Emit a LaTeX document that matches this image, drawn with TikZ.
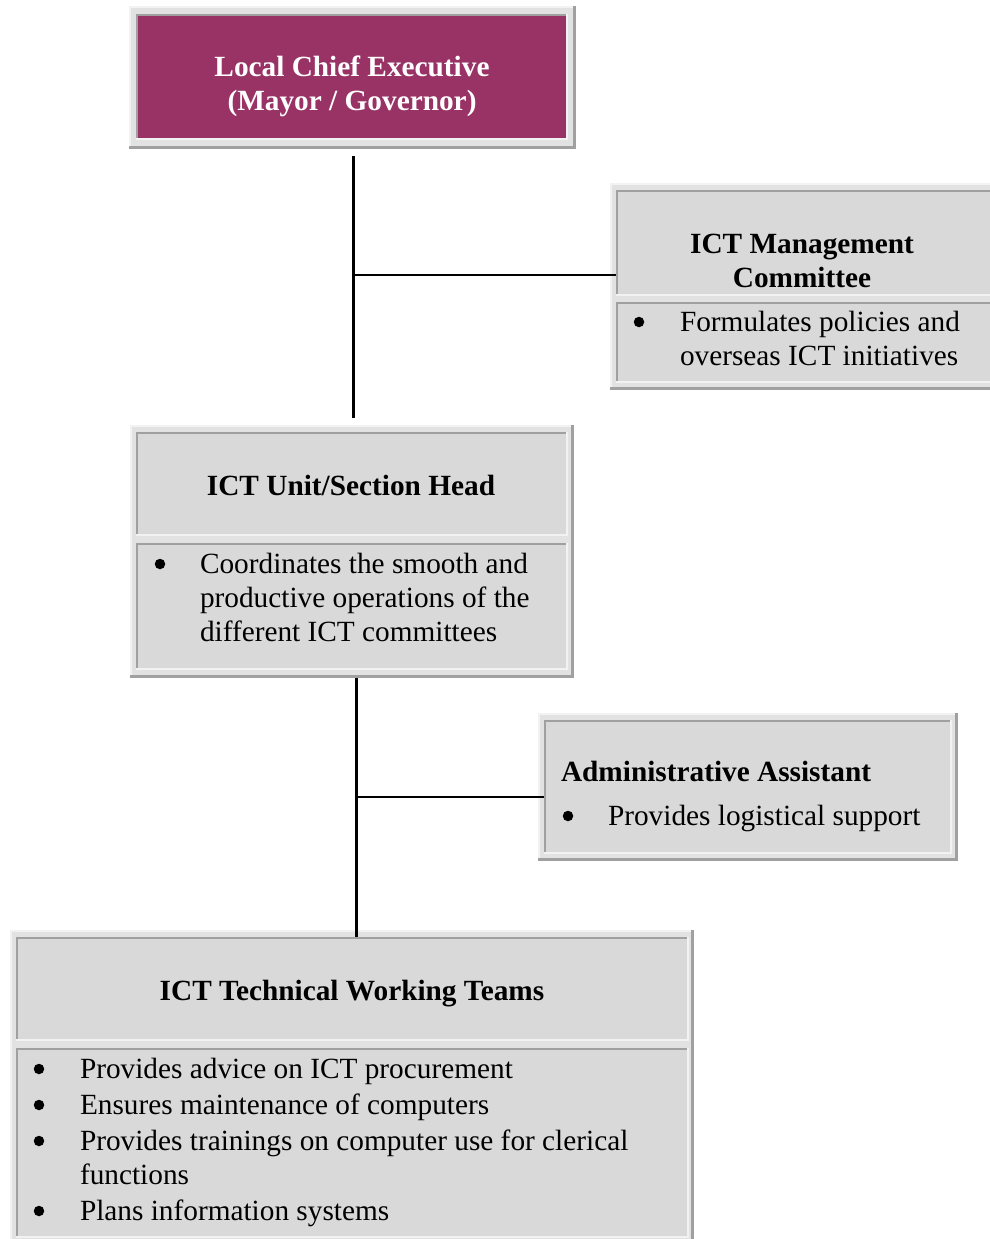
\documentclass[tikz,border=0pt]{standalone}
\usepackage{fontspec}
\setmainfont{Liberation Serif}
\definecolor{plum}{HTML}{993366}
\definecolor{cellgray}{HTML}{D9D9D9}
\definecolor{outergray}{HTML}{E2E2E2}
\definecolor{bevdark}{HTML}{A0A0A0}
\definecolor{bevlight}{HTML}{F2F2F2}
\newcommand\tablebox[5]{%
  \node[tablestyle, minimum width=#4pt-#2pt, minimum height=#5pt-#3pt] (#1) at ({(#2+#4)/2},{(#3+#5)/2}) {};
  \draw[bevlight, line width=2pt] ([xshift=1pt]#1.south west) -- ([xshift=1pt,yshift=-1pt]#1.north west) -- ([yshift=-1pt]#1.north east);
  \draw[bevdark, line width=3pt] ([xshift=-1.5pt]#1.north east) -- ([xshift=-1.5pt,yshift=1.5pt]#1.south east) -- ([yshift=1.5pt]#1.south west);
}
\newcommand\cellbox[6]{%
  \node[cellstyle, fill=#6, minimum width=#4pt-#2pt, minimum height=#5pt-#3pt] (#1) at ({(#2+#4)/2},{(#3+#5)/2}) {};
  \draw[bevdark, line width=2pt] ([xshift=1pt]#1.south west) -- ([xshift=1pt,yshift=-1pt]#1.north west) -- ([yshift=-1pt]#1.north east);
  \draw[bevlight, line width=2pt] ([xshift=-1pt]#1.north east) -- ([xshift=-1pt,yshift=1pt]#1.south east) -- ([yshift=1pt]#1.south west);
}
\tikzset{
  tablestyle/.style={rectangle, fill=outergray, draw=none, inner sep=0pt, outer sep=0pt},
  cellstyle/.style={rectangle, draw=none, inner sep=0pt, outer sep=0pt},
  txt/.style={inner sep=0pt, outer sep=0pt, font=\fontsize{29.3pt}{34pt}\selectfont, anchor=base west},
  hd/.style={txt, font=\fontsize{29.3pt}{34pt}\selectfont\bfseries, anchor=base},
  hdl/.style={txt, font=\fontsize{29.3pt}{34pt}\selectfont\bfseries, anchor=base west},
  bul/.style={circle, fill=black, draw=none, inner sep=0pt, outer sep=0pt, minimum size=10.5pt},
  trunk/.style={draw=black, line width=3pt},
  branch/.style={draw=black, line width=1.5pt}
}
\begin{document}
\begin{tikzpicture}[x=1pt,y=-1pt]
\useasboundingbox (0,0) rectangle (989,1239);
\fill[white] (0,0) rectangle (989,1239);

% Local Chief Executive
\tablebox{lce}{129}{6}{576}{149}
\cellbox{lcec}{136}{14}{568}{140}{plum}
\node[hd, text=white] (lce1) at (352,77) {Local Chief Executive};
\node[hd, text=white] (lce2) at (352,110) {(Mayor / Governor)};

% ICT Management Committee
\tablebox{mgmt}{610}{183}{996}{390}
\cellbox{mgmth}{616}{190}{993}{296}{cellgray}
\cellbox{mgmtb}{616}{302}{993}{383}{cellgray}
\node[hd] (m1) at (802,253) {ICT Management};
\node[hd] (m2) at (802,287) {Committee};
\node[bul] (mb) at (639,322) {};
\node[txt] (mt1) at (680,331) {Formulates policies and};
\node[txt] (mt2) at (680,365) {overseas ICT initiatives};

% ICT Unit/Section Head
\tablebox{unit}{130}{425}{574}{678}
\cellbox{unith}{136}{432}{568}{536}{cellgray}
\cellbox{unitb}{136}{543}{568}{670}{cellgray}
\node[hd] (u1) at (351,495) {ICT Unit/Section Head};
\node[bul] (ub) at (160,564) {};
\node[txt] (ut1) at (200,573) {Coordinates the smooth and};
\node[txt] (ut2) at (200,607) {productive operations of the};
\node[txt] (ut3) at (200,641) {different ICT committees};

% Administrative Assistant
\tablebox{admin}{538}{713}{958}{861}
\cellbox{adminc}{544}{720}{952}{854}{cellgray}
\node[hdl] (a1) at (561,781) {Administrative Assistant};
\node[bul] (ab) at (568,816) {};
\node[txt] (at1) at (608,825) {Provides logistical support};

% ICT Technical Working Teams
\tablebox{teams}{10}{930}{694}{1250}
\cellbox{teamsh}{16}{937}{689}{1041}{cellgray}
\cellbox{teamsb}{16}{1048}{689}{1238}{cellgray}
\node[hd] (t1) at (352,1000) {ICT Technical Working Teams};
\node[bul] (tb1) at (39,1069) {};
\node[txt] (tt1) at (80,1078) {Provides advice on ICT procurement};
\node[bul] (tb2) at (39,1105) {};
\node[txt] (tt2) at (80,1114) {Ensures maintenance of computers};
\node[bul] (tb3) at (39,1141) {};
\node[txt] (tt3) at (80,1150) {Provides trainings on computer use for clerical};
\node[txt] (tt4) at (80,1184) {functions};
\node[bul] (tb4) at (39,1211) {};
\node[txt] (tt5) at (80,1220) {Plans information systems};

% connectors
\coordinate (j1) at (353,275);
\coordinate (j2) at (356,797);
\draw[trunk] ([xshift=0.5pt,yshift=-7pt]lce.south) -- ([xshift=0.5pt,yshift=7pt]lce.south |- unit.north);
\draw[branch] (j1) -- (mgmth.west |- j1);
\draw[trunk] ([xshift=4.5pt]unit.south) -- ([xshift=4.5pt]unit.south |- teamsh.north);
\draw[branch] (j2) -- (adminc.west |- j2);
\end{tikzpicture}
\end{document}
